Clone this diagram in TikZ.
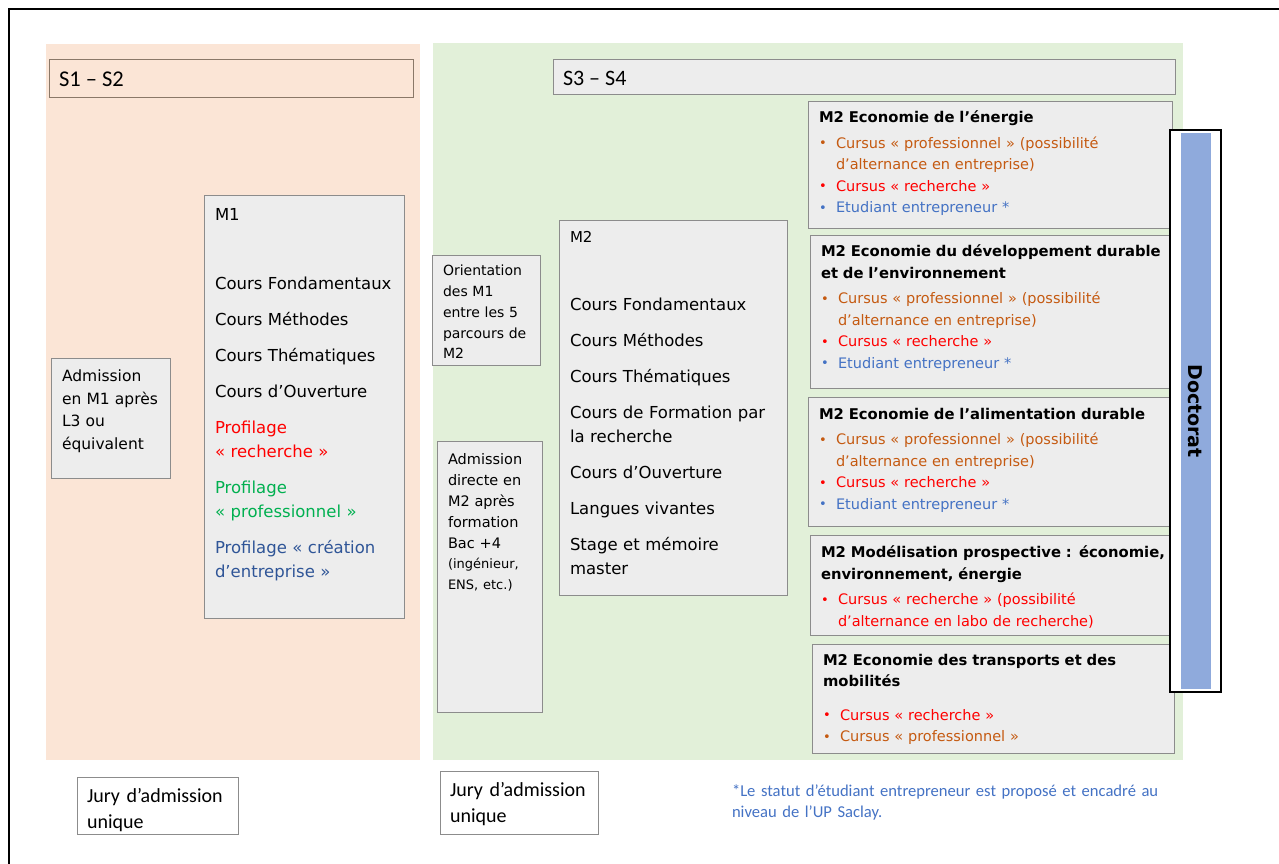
\documentclass[tikz,border=0pt]{standalone}
\usepackage{fontspec}
\setmainfont{DejaVu Sans}
\newfontfamily\calib{Carlito}
\usetikzlibrary{positioning}
\definecolor{peach}{HTML}{FBE5D6}
\definecolor{lightgreen}{HTML}{E2F0D9}
\definecolor{boxgray}{HTML}{EDEDED}
\definecolor{boxline}{HTML}{8C8C8C}
\definecolor{semline}{HTML}{8A7868}
\definecolor{barblue}{HTML}{8FAADC}
\definecolor{txtorange}{HTML}{C55A11}
\definecolor{txtred}{HTML}{FF0000}
\definecolor{txtgreen}{HTML}{00B050}
\definecolor{txtdarkblue}{HTML}{2F5597}
\definecolor{txtblue}{HTML}{4472C4}
\newcommand{\bul}[1]{\makebox[17pt][l]{\textcolor{#1}{\raisebox{0.5pt}{\fontsize{13}{13}\selectfont•}}}}
\newcommand{\ind}{\hspace*{17pt}}
\newcommand{\ptitle}{\bfseries\fontsize{14.8}{22}\selectfont}

\begin{document}
\begin{tikzpicture}[x=1pt,y=-1pt,
  every node/.style={inner sep=0pt, outer sep=0pt},
  box/.style={draw=boxline, fill=boxgray, line width=0.8pt, anchor=north west},
  txt/.style={anchor=north west, align=left, text width=#1},
  txt/.default=380pt,
  bodyfont/.style={font=\fontsize{16.5}{24}\selectfont},
  parcfont/.style={font=\fontsize{14.5}{21.5}\selectfont}]
\useasboundingbox (0,0) rectangle (1279,864);
% frame
\draw[line width=2.5pt] (9,864) -- (9,9) -- (1279,9);
% semester panels
\fill[peach] (46,44) rectangle (420,760);
\fill[lightgreen] (433,43) rectangle (1183,760);
\node[box, draw=semline, fill=peach, minimum width=364pt, minimum height=38pt] (s12) at (49,59) {};
\node[anchor=west, font=\calib\fontsize{22.5}{26}\selectfont] (s12t) at (59,79) {S1 – S2};
\node[box, minimum width=622pt, minimum height=35pt] (s34) at (553,59) {};
\node[anchor=west, font=\calib\fontsize{22}{26}\selectfont] (s34t) at (563,78) {S3 – S4};

% M1
\node[box, minimum width=200pt, minimum height=423pt] (m1) at (204,195) {};
\node[txt=188pt, bodyfont] (m1t) at (215,208) {M1\\[45pt]
  Cours Fondamentaux\\[12pt]
  Cours Méthodes\\[12pt]
  Cours Thématiques\\[12pt]
  Cours d’Ouverture\\[12pt]
  \textcolor{txtred}{Profilage\\« recherche »}\\[12pt]
  \textcolor{txtgreen}{Profilage\\« professionnel »}\\[12pt]
  \textcolor{txtdarkblue}{Profilage « création\\d’entreprise »}};
\node[box, minimum width=119pt, minimum height=120pt] (adm1) at (51,358) {};
\node[txt=110pt, font=\fontsize{15.5}{22.5}\selectfont] (adm1t) at (62,370) {Admission\\en M1 après\\L3 ou\\équivalent};

% M2
\node[box, minimum width=108pt, minimum height=110pt] (orient) at (432,255) {};
\node[txt=100pt, font=\fontsize{14}{20.8}\selectfont] (orientt) at (443,265) {Orientation\\des M1\\entre les 5\\parcours de\\M2};
\node[box, minimum width=105pt, minimum height=271pt] (adm2) at (437,441) {};
\node[txt=100pt, font=\fontsize{14.5}{21}\selectfont] (adm2t) at (448,453) {Admission\\directe en\\M2 après\\formation\\Bac +4\\[1pt]
  {\fontsize{13}{19}\selectfont (ingénieur,\\ENS, etc.)}};
\node[box, minimum width=228pt, minimum height=375pt] (m2) at (559,220) {};
\node[txt=218pt, bodyfont] (m2t) at (570,231) {{\fontsize{15}{24}\selectfont M2}\\[44pt]
  Cours Fondamentaux\\[12pt]
  Cours Méthodes\\[12pt]
  Cours Thématiques\\[12pt]
  Cours de Formation par\\la recherche\\[12pt]
  Cours d’Ouverture\\[12pt]
  Langues vivantes\\[12pt]
  Stage et mémoire\\master};

% parcours de M2
\node[box, minimum width=364pt, minimum height=127pt] (p1) at (808,101) {};
\node[txt, parcfont] (p1t) at (819,111) {{\ptitle M2 Economie de l’énergie}\\[4pt]
  \bul{txtorange}\textcolor{txtorange}{Cursus « professionnel » (possibilité}\\
  \ind\textcolor{txtorange}{d’alternance en entreprise)}\\
  \bul{txtred}\textcolor{txtred}{Cursus « recherche »}\\
  \bul{txtblue}\textcolor{txtblue}{Etudiant entrepreneur *}};
\node[box, minimum width=362pt, minimum height=153pt] (p2) at (810,235) {};
\node[txt, parcfont] (p2t) at (821,245) {{\ptitle M2 Economie du développement durable\\
  et de l’environnement}\\[4pt]
  \bul{txtorange}\textcolor{txtorange}{Cursus « professionnel » (possibilité}\\
  \ind\textcolor{txtorange}{d’alternance en entreprise)}\\
  \bul{txtred}\textcolor{txtred}{Cursus « recherche »}\\
  \bul{txtblue}\textcolor{txtblue}{Etudiant entrepreneur *}};
\node[box, minimum width=364pt, minimum height=129pt] (p3) at (808,397) {};
\node[txt, parcfont] (p3t) at (819,408) {{\ptitle M2 Economie de l’alimentation durable}\\[4pt]
  \bul{txtorange}\textcolor{txtorange}{Cursus « professionnel » (possibilité}\\
  \ind\textcolor{txtorange}{d’alternance en entreprise)}\\
  \bul{txtred}\textcolor{txtred}{Cursus « recherche »}\\
  \bul{txtblue}\textcolor{txtblue}{Etudiant entrepreneur *}};
\node[box, minimum width=362pt, minimum height=100pt] (p4) at (810,535) {};
\node[txt, parcfont] (p4t) at (821,546) {{\ptitle M2 Modélisation prospective : économie,\\
  environnement, énergie}\\[4pt]
  \bul{txtred}\textcolor{txtred}{Cursus « recherche » (possibilité}\\
  \ind\textcolor{txtred}{d’alternance en labo de recherche)}};
\node[box, minimum width=362pt, minimum height=109pt] (p5) at (812,644) {};
\node[txt, parcfont] (p5t) at (823,654) {{\ptitle M2 Economie des transports et des\\
  mobilités}\\[12pt]
  \bul{txtred}\textcolor{txtred}{Cursus « recherche »}\\
  \bul{txtorange}\textcolor{txtorange}{Cursus « professionnel »}};

% Doctorat
\node[draw=black, fill=white, line width=1.6pt, anchor=north west, minimum width=51pt, minimum height=562pt] (doc) at (1170,130) {};
\node[fill=barblue, anchor=north west, minimum width=30pt, minimum height=556pt] (docbar) at (1181,133) {};
\node[rotate=-90, font=\bfseries\fontsize{19}{22}\selectfont] (doct) at (1195,411) {Doctorat};

% jurys et note
\node[draw=boxline, fill=white, line width=0.8pt, anchor=north west, minimum width=161pt, minimum height=57pt] (jury1) at (77,777) {};
\node[txt=155pt, font=\calib\fontsize{20}{26}\selectfont] (jury1t) at (87,788) {Jury d’admission\\unique};
\node[draw=boxline, fill=white, line width=0.8pt, anchor=north west, minimum width=158pt, minimum height=63pt] (jury2) at (440,771) {};
\node[txt=155pt, font=\calib\fontsize{20}{26}\selectfont] (jury2t) at (450,782) {Jury d’admission\\unique};
\node[txt=480pt, font=\calib\fontsize{16.6}{21}\selectfont, text=txtblue] (note) at (732,785) {*Le statut d’étudiant entrepreneur est proposé et encadré au\\niveau de l’UP Saclay.};
\end{tikzpicture}
\end{document}
